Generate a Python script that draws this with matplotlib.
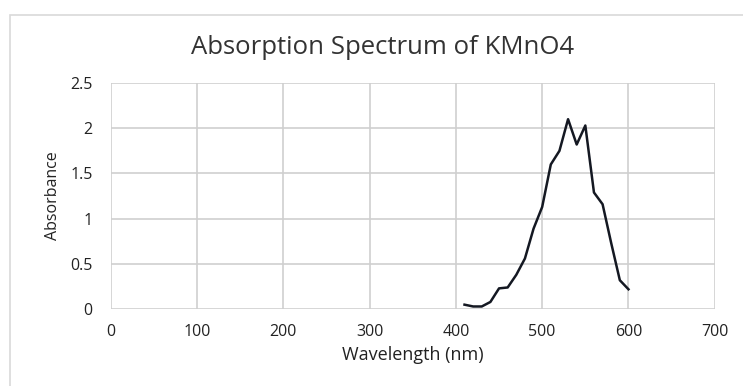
import matplotlib.pyplot as plt
from matplotlib.patches import Rectangle

# Absorption spectrum readings
wavelength = [410, 420, 430, 440, 450, 460, 470, 480, 490, 500,
              510, 520, 530, 540, 550, 560, 570, 580, 590, 600]
absorbance = [0.05, 0.03, 0.03, 0.08, 0.23, 0.24, 0.38, 0.56, 0.89, 1.13,
              1.60, 1.75, 2.10, 1.82, 2.03, 1.29, 1.16, 0.73, 0.32, 0.22]

x_ticks = [0, 100, 200, 300, 400, 500, 600, 700]
y_ticks = [0, 0.5, 1, 1.5, 2, 2.5]
y_labels = ['0', '0.5', '1', '1.5', '2', '2.5']

plt.rcParams['font.family'] = ['Open Sans', 'DejaVu Sans']

fig = plt.figure(figsize=(7.43, 3.86), dpi=100)
ax = fig.add_axes([0.149, 0.199, 0.813, 0.586])

# light chart-area border like the spreadsheet export
fig.patches.append(Rectangle((0.013, -0.05), 1.1, 1.01, transform=fig.transFigure,
                             fill=False, edgecolor='#d9d9d9', linewidth=1.2))

ax.plot(wavelength, absorbance, color='#141822', linewidth=1.8)

ax.set_xlim(0, 700)
ax.set_ylim(0, 2.5)
ax.set_xticks(x_ticks)
ax.set_yticks(y_ticks)
ax.set_yticklabels(y_labels)
ax.grid(True, color='#cfcfcf', linewidth=1.2)
ax.set_axisbelow(True)
for s in ax.spines.values():
    s.set_visible(False)
ax.tick_params(length=0, labelsize=11.5, colors='#222222')
ax.tick_params(axis='x', pad=11)
ax.tick_params(axis='y', pad=13)

fig.text(0.515, 0.878, "Absorption Spectrum of KMnO4", fontsize=18.5,
         color='#333333', ha='center', va='center')
ax.set_xlabel("Wavelength (nm)", fontsize=13, color='#222222', labelpad=4)
ax.set_ylabel("Absorbance", fontsize=11.5, color='#222222', labelpad=7)

fig.savefig("out.png", dpi=100)
